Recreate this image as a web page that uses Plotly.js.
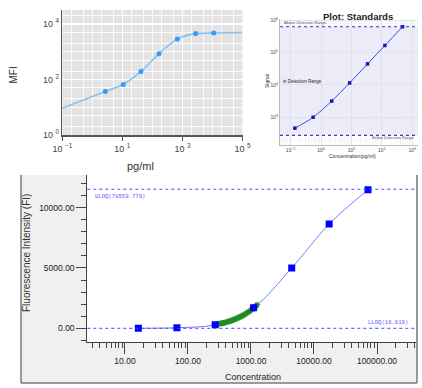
<!DOCTYPE html>
<html>
<head>
<meta charset="utf-8">
<script src="https://cdn.plot.ly/plotly-3.0.1.min.js"></script>
<style>html,body{margin:0;padding:0;background:#fff;}#chart{width:422px;height:388px;}</style>
</head>
<body>
<div id="chart"></div>
<script>
// ---- Chart A (top-left): MFI vs pg/ml ----
const aConc = [2.7, 10.7, 41.7, 166, 676, 2750, 10960];
const aMfi = [37, 66, 195, 850, 2880, 4470, 4680];
const aCurveConc = [0.1, 2.7, 10.7, 41.7, 166, 676, 2750, 10960, 100000];
const aCurveMfi = [9.1, 37, 66, 195, 850, 2880, 4470, 4680, 4900];
const aXTickVals = [0.1, 10, 1000, 100000];
const aXTickText = ['10 <sup>−1</sup>', '10 <sup>1</sup>', '10 <sup>3</sup>', '10 <sup>5</sup>'];
const aYTickVals = [1, 100, 10000];
const aYTickText = ['10 <sup>0</sup>', '10 <sup>2</sup>', '10 <sup>4</sup>'];

// ---- Chart B (top-right): Plot: Standards ----
const bConc = [0.138, 0.55, 2.24, 8.71, 33.9, 126, 479];
const bSignal = [457, 1000, 3160, 11480, 44700, 166000, 631000];
const bUpperLimit = 631000;
const bLowerLimit = 275;
const bXTickVals = [0.1, 1, 10, 100, 1000];
const bXTickText = ['10<sup>−1</sup>', '10<sup>0</sup>', '10<sup>1</sup>', '10<sup>2</sup>', '10<sup>3</sup>'];
const bYTickVals = [1000, 10000, 100000, 1000000];
const bYTickText = ['10<sup>3</sup>', '10<sup>4</sup>', '10<sup>5</sup>', '10<sup>6</sup>'];

// ---- Chart C (bottom): Fluorescence Intensity vs Concentration ----
const cConc = [16.3, 66.8, 270, 1100, 4430, 17400, 72000];
const cFi = [0, 50, 300, 1708, 5000, 8650, 11490];
const cUloqFi = 11530;
const cLloqFi = 0;
const cUloqLabel = 'ULOQ(78559.779)';
const cLloqLabel = 'LLOQ(16.619)';
const sampleConc = [290, 305, 320, 335, 350, 365, 380, 400, 420, 440, 460, 480, 500, 520, 545, 570, 600, 630, 660, 690, 720, 750, 790, 830, 870, 910, 960, 1010, 1060, 1150, 1200, 1250];
const sampleFi = [340, 370, 375, 410, 415, 450, 465, 510, 515, 575, 580, 625, 650, 705, 720, 790, 805, 890, 915, 990, 1005, 1100, 1125, 1230, 1260, 1370, 1420, 1540, 1580, 1800, 1840, 1960];

const W = 422, H = 388;
const px = v => v / W;
const py = v => 1 - v / H;

const traces = [
  {x: aCurveConc, y: aCurveMfi, xaxis: 'x', yaxis: 'y', mode: 'lines',
   line: {color: '#86c1f2', width: 1.6, shape: 'spline', smoothing: 0.8}, hoverinfo: 'skip'},
  {x: aConc, y: aMfi, xaxis: 'x', yaxis: 'y', mode: 'markers',
   marker: {symbol: 'circle', size: 5, color: '#3399ff'}},
  {x: bConc, y: bSignal, xaxis: 'x2', yaxis: 'y2', mode: 'lines+markers',
   line: {color: '#4a4ad8', width: 1, shape: 'spline'},
   marker: {symbol: 'square', size: 3.5, color: '#1515c0'}},
  {x: cConc, y: cFi, xaxis: 'x3', yaxis: 'y3', mode: 'lines',
   line: {color: '#7a7aff', width: 1, shape: 'spline', smoothing: 0.9}},
  {x: sampleConc, y: sampleFi, xaxis: 'x3', yaxis: 'y3', mode: 'markers',
   marker: {symbol: 'asterisk-open', size: 5, color: '#228b22', line: {color: '#228b22', width: 1.1}}},
  {x: cConc, y: cFi, xaxis: 'x3', yaxis: 'y3', mode: 'markers',
   marker: {symbol: 'square', size: 7, color: '#0000ff'}}
];

const narrow = 'Liberation Sans Narrow, Arial Narrow, Liberation Sans, Arial, sans-serif';
const sans = 'Liberation Sans, Arial, sans-serif';

function ann(text, x, y, opts) {
  return Object.assign({text: text, xref: 'paper', yref: 'paper', x: px(x), y: py(y),
    xanchor: 'center', yanchor: 'middle', showarrow: false}, opts);
}

const layout = {
  width: W, height: H,
  margin: {l: 0, r: 0, t: 0, b: 0},
  paper_bgcolor: '#ffffff',
  plot_bgcolor: 'rgba(0,0,0,0)',
  showlegend: false,
  font: {family: sans, color: '#333'},
  xaxis: {
    domain: [px(62.3), px(242.5)], anchor: 'y', type: 'log', range: [-1, 5],
    tickmode: 'array', tickvals: aXTickVals, ticktext: aXTickText,
    showline: true, linecolor: '#555', linewidth: 2,
    ticks: 'outside', ticklen: 4, tickcolor: '#555',
    showgrid: true, gridcolor: '#ffffff', gridwidth: 1.5,
    minor: {showgrid: true, gridcolor: '#fbfbfb', gridwidth: 1, dtick: 'D2'},
    tickfont: {family: sans, size: 9, color: '#444'}, zeroline: false
  },
  yaxis: {
    domain: [py(135), py(10)], anchor: 'x', type: 'log', range: [0, 4.5],
    tickmode: 'array', tickvals: aYTickVals, ticktext: aYTickText,
    showline: true, linecolor: '#555', linewidth: 1.5,
    ticks: '', showgrid: true, gridcolor: '#ffffff', gridwidth: 1.5,
    minor: {showgrid: true, gridcolor: '#fbfbfb', gridwidth: 1, dtick: 'D2'},
    tickfont: {family: sans, size: 9, color: '#444'}, zeroline: false
  },
  xaxis2: {
    domain: [px(280), px(418)], anchor: 'y2', type: 'log', range: [-1.35, 3.19],
    tickmode: 'array', tickvals: bXTickVals, ticktext: bXTickText,
    showline: true, linecolor: '#bbbbbb', linewidth: 1,
    ticks: '', showgrid: true, gridcolor: '#dcdce6', gridwidth: 0.6,
    minor: {showgrid: true, gridcolor: '#ececf2', gridwidth: 0.5, dtick: 'D1'},
    tickfont: {family: sans, size: 5, color: '#444'}, zeroline: false
  },
  yaxis2: {
    domain: [py(145), py(19)], anchor: 'x2', type: 'log', range: [2.14, 6.04],
    tickmode: 'array', tickvals: bYTickVals, ticktext: bYTickText,
    showline: true, linecolor: '#bbbbbb', linewidth: 1,
    ticks: '', showgrid: true, gridcolor: '#dcdce6', gridwidth: 0.6,
    minor: {showgrid: true, gridcolor: '#ececf2', gridwidth: 0.5, dtick: 'D1'},
    tickfont: {family: sans, size: 5, color: '#444'}, zeroline: false
  },
  xaxis3: {
    domain: [px(87.3), px(416)], anchor: 'y3', type: 'log', range: [0.402, 5.619],
    dtick: 1, tickformat: '.2f', showline: true, linecolor: '#444', linewidth: 1,
    ticks: 'outside', ticklen: 11, tickcolor: '#444', tickwidth: 1,
    minor: {ticks: 'outside', ticklen: 5, tickcolor: '#444', dtick: 'D1'},
    showgrid: false, zeroline: false,
    tickfont: {family: narrow, size: 8.5, color: '#222'}
  },
  yaxis3: {
    domain: [py(341.5), py(175)], anchor: 'x3', range: [-1094, 12709],
    dtick: 5000, tick0: 0, tickformat: '.2f', showline: true, linecolor: '#444', linewidth: 1,
    ticks: 'outside', ticklen: 10, tickcolor: '#444', tickwidth: 1,
    minor: {ticks: 'outside', ticklen: 5, tickcolor: '#444', dtick: 1000},
    showgrid: false, zeroline: false,
    tickfont: {family: narrow, size: 8.5, color: '#222'}
  },
  shapes: [
    {type: 'rect', xref: 'paper', yref: 'paper', x0: px(21), x1: px(417), y0: py(383), y1: py(175),
     fillcolor: '#f0f0f0', line: {width: 0}, layer: 'below'},
    {type: 'line', xref: 'paper', yref: 'paper', x0: px(21), x1: px(21), y0: py(383), y1: py(175),
     line: {color: '#7a7a7a', width: 1.5}},
    {type: 'line', xref: 'paper', yref: 'paper', x0: px(21), x1: px(417), y0: py(383), y1: py(383),
     line: {color: '#7a7a7a', width: 1.5}},
    {type: 'line', xref: 'paper', yref: 'paper', x0: px(417), x1: px(417), y0: py(383), y1: py(175),
     line: {color: '#7a7a7a', width: 1.5}},
    {type: 'rect', xref: 'x3 domain', yref: 'y3 domain', x0: 0, x1: 1, y0: 0, y1: 1,
     fillcolor: '#ffffff', line: {width: 0}, layer: 'below'},
    {type: 'rect', xref: 'x domain', yref: 'y domain', x0: 0, x1: 1, y0: 0, y1: 1,
     fillcolor: '#e3e3e3', line: {width: 0}, layer: 'below'},
    {type: 'rect', xref: 'x2 domain', yref: 'y2', x0: 0, x1: 1, y0: bLowerLimit, y1: bUpperLimit,
     fillcolor: '#ececfb', line: {width: 0}, layer: 'below'},
    {type: 'line', xref: 'x2 domain', yref: 'y2', x0: 0, x1: 1, y0: bUpperLimit, y1: bUpperLimit,
     line: {color: '#3535dd', width: 1.2, dash: 'dot'}},
    {type: 'line', xref: 'x2 domain', yref: 'y2', x0: 0, x1: 1, y0: bLowerLimit, y1: bLowerLimit,
     line: {color: '#3535dd', width: 1.2, dash: 'dot'}},
    {type: 'line', xref: 'x3 domain', yref: 'y3', x0: 0, x1: 1, y0: cUloqFi, y1: cUloqFi,
     line: {color: '#4444ff', width: 1, dash: 'dot'}},
    {type: 'line', xref: 'x3 domain', yref: 'y3', x0: 0, x1: 1, y0: cLloqFi, y1: cLloqFi,
     line: {color: '#4444ff', width: 1, dash: 'dot'}}
  ],
  annotations: [
    ann('MFI', 13.5, 75, {textangle: -90, font: {family: sans, size: 10, color: '#333'}}),
    ann('pg/ml', 140, 166, {font: {family: sans, size: 11, color: '#333'}}),
    ann('<b>Plot: Standards</b>', 358, 16.5, {font: {family: narrow, size: 9.5, color: '#222'}}),
    ann('Signal', 267, 81, {textangle: -90, font: {family: sans, size: 5, color: '#333'}}),
    ann('Concentration(pg/ml)', 352, 155.5, {font: {family: sans, size: 5, color: '#333'}}),
    ann('Above Detection Range', 282, 22.7, {xanchor: 'left', font: {family: sans, size: 4, color: '#555'}}),
    ann('in Detection Range', 281, 81, {xanchor: 'left', font: {family: sans, size: 4.5, color: '#222'}}),
    ann('Below Detection Range', 417, 137, {xanchor: 'right', font: {family: sans, size: 4, color: '#555'}}),
    ann(cUloqLabel, 92.5, 196.7, {xanchor: 'left', font: {family: 'Liberation Mono, DejaVu Sans Mono, monospace', size: 5.6, color: '#5a5aff'}}),
    ann(cLloqLabel, 409.5, 322.3, {xanchor: 'right', font: {family: 'Liberation Mono, DejaVu Sans Mono, monospace', size: 5.6, color: '#5a5aff'}}),
    ann('Fluorescence Intensity (FI)', 26, 253, {textangle: -90, font: {family: narrow, size: 10, color: '#333'}}),
    ann('Concentration', 252.7, 377, {font: {family: narrow, size: 9, color: '#222'}})
  ]
};

Plotly.newPlot('chart', traces, layout, {staticPlot: true, displayModeBar: false});
</script>
</body>
</html>
